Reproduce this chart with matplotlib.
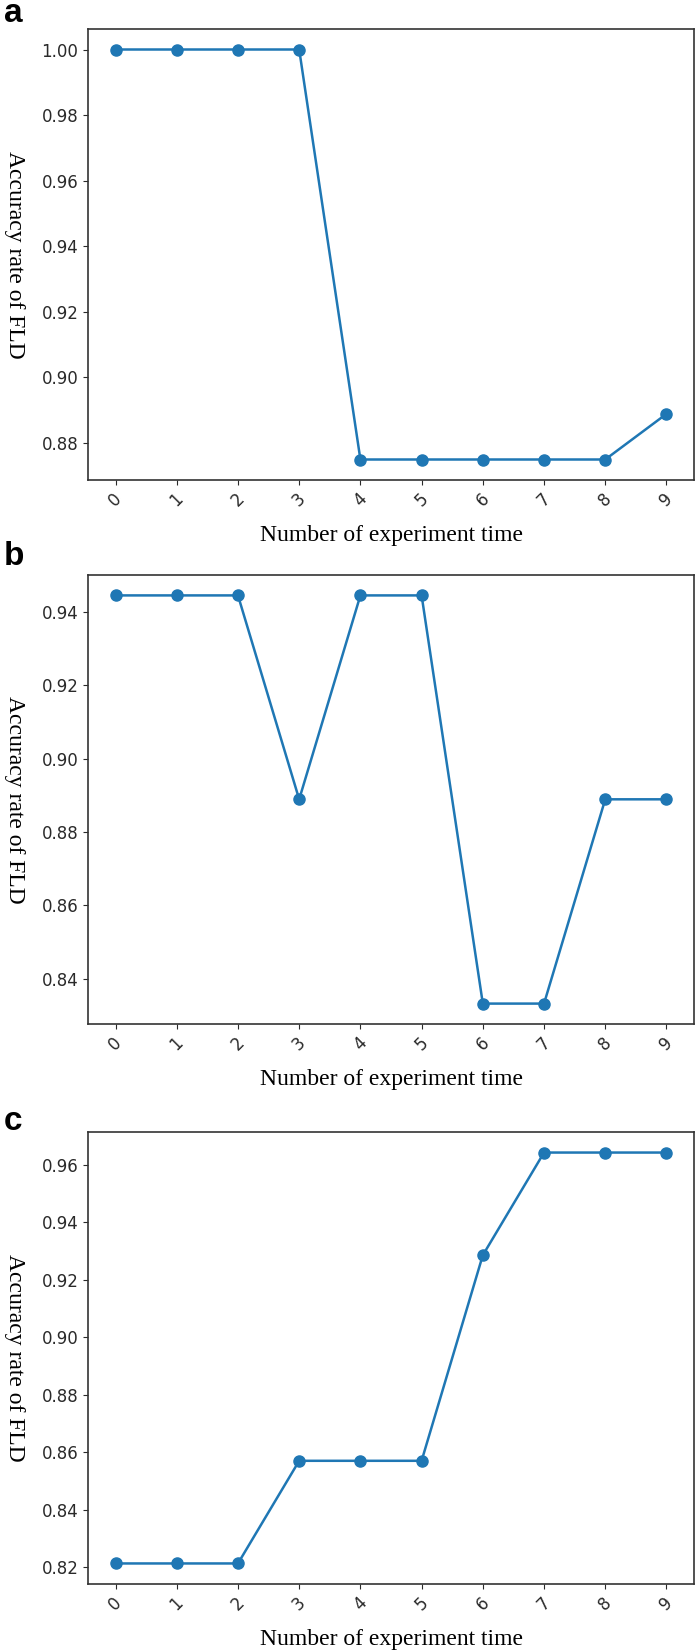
import matplotlib.pyplot as plt

# experiment index and accuracy per panel
runs = list(range(10))
acc_a = [1.0, 1.0, 1.0, 1.0, 0.875, 0.875, 0.875, 0.875, 0.875, 0.8889]
acc_b = [0.9444, 0.9444, 0.9444, 0.8889, 0.9444, 0.9444, 0.8333, 0.8333, 0.8889, 0.8889]
acc_c = [0.8214, 0.8214, 0.8214, 0.8571, 0.8571, 0.8571, 0.9286, 0.9643, 0.9643, 0.9643]
panel_letters = ['a', 'b', 'c']

W, H = 698, 1652
fig = plt.figure(figsize=(W / 100, H / 100), dpi=100)

# axes boxes in pixels: (left, top, right, bottom)
boxes = [(88, 29, 694, 480), (88, 575, 694, 1024), (88, 1132, 694, 1584)]
letter_base = [22, 565, 1130]

for acc, box, letter, lb in zip([acc_a, acc_b, acc_c], boxes, panel_letters, letter_base):
    l, t, r, b = box
    w, h = r - l, b - t
    ax = fig.add_axes([l / W, 1 - b / H, w / W, h / H])
    ax.plot(runs, acc, color='#1f77b4', marker='o', markersize=8, linewidth=1.8)
    ax.set_xticks(runs)
    ax.set_xticklabels([str(i) for i in runs], rotation=45)
    ax.tick_params(labelsize=12, colors='#2a2a2a')
    for s in ax.spines.values():
        s.set_color('#333333')
        s.set_linewidth(1.2)
    ax.set_xlabel('Number of experiment time', family='Liberation Serif',
                  fontsize=17, va='baseline')
    ax.xaxis.set_label_coords(0.5, -61 / h)
    ax.set_ylabel('Accuracy rate of FLD', family='Liberation Serif',
                  fontsize=17, rotation=-90, va='center')
    ax.yaxis.set_label_coords(-(l - 14) / w, 0.5)
    fig.text(4 / W, 1 - lb / H, letter, fontsize=24, fontweight='bold',
             family='Liberation Sans', va='baseline', ha='left')

fig.savefig('out.png', dpi=100)
